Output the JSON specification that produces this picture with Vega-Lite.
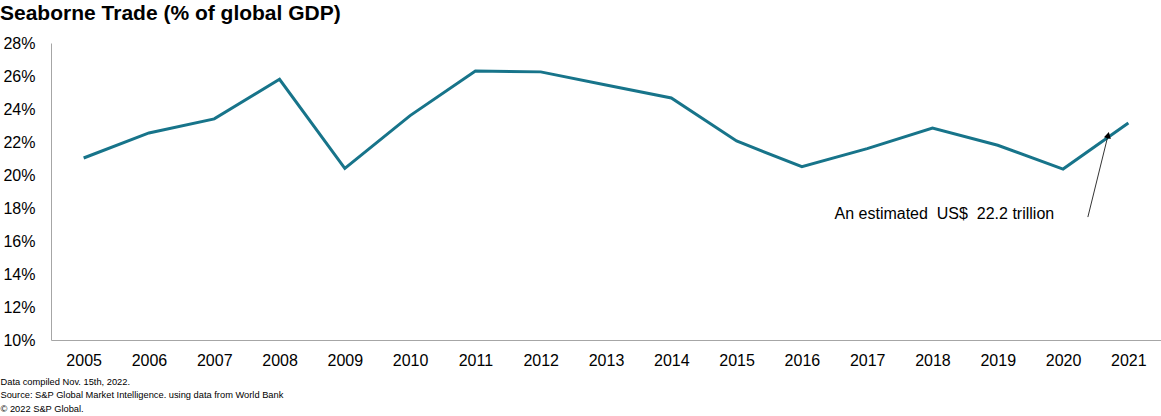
{
  "$schema": "https://vega.github.io/schema/vega-lite/v6.json",
  "width": 1110,
  "height": 297,
  "autosize": "none",
  "padding": {"left": 51, "top": 43, "right": 0, "bottom": 76},
  "background": "white",
  "config": {"view": {"stroke": null}, "font": "Liberation Sans"},
  "title": {
    "text": "Seaborne Trade (% of global GDP)",
    "anchor": "start",
    "frame": "group",
    "dx": -51,
    "offset": 11,
    "fontSize": 21,
    "fontWeight": "bold",
    "font": "Liberation Sans",
    "color": "#000000"
  },
  "datasets": {
    "trade": [
      {"year": 2005, "share": 0.2103},
      {"year": 2006, "share": 0.2255},
      {"year": 2007, "share": 0.2340},
      {"year": 2008, "share": 0.2580},
      {"year": 2009, "share": 0.2040},
      {"year": 2010, "share": 0.2360},
      {"year": 2011, "share": 0.2630},
      {"year": 2012, "share": 0.2625},
      {"year": 2013, "share": 0.2545},
      {"year": 2014, "share": 0.2467},
      {"year": 2015, "share": 0.2206},
      {"year": 2016, "share": 0.2050},
      {"year": 2017, "share": 0.2160},
      {"year": 2018, "share": 0.2285},
      {"year": 2019, "share": 0.2180},
      {"year": 2020, "share": 0.2036},
      {"year": 2021, "share": 0.2315}
    ],
    "arrow": [
      {"x1": 2020.38, "y1": 0.1745, "x2": 2020.69, "y2": 0.2242}
    ],
    "note": [
      {"x": 2016.5, "y": 0.1762, "label": "An estimated \u00a0US$ \u00a022.2 trillion"}
    ]
  },
  "layer": [
    {
      "data": {"name": "trade"},
      "mark": {"type": "line", "color": "#17748a", "strokeWidth": 3},
      "encoding": {
        "x": {
          "field": "year",
          "type": "quantitative",
          "scale": {"domain": [2004.5, 2021.5], "nice": false, "zero": false},
          "axis": {
            "values": [2005, 2006, 2007, 2008, 2009, 2010, 2011, 2012, 2013, 2014, 2015, 2016, 2017, 2018, 2019, 2020, 2021],
            "tickCount": 20,
            "format": "d",
            "grid": false,
            "ticks": false,
            "domainColor": "#a6a6a6",
            "domainWidth": 1,
            "labelFontSize": 16,
            "labelColor": "#000000",
            "labelPadding": 12,
            "labelOverlap": false,
            "labelFont": "Liberation Sans",
            "title": [
              "Data compiled Nov. 15th, 2022.",
              "Source: S&P Global Market Intelligence. using data from World Bank",
              "© 2022  S&P Global."
            ],
            "titleFontSize": 9.3,
            "titleFontWeight": "normal",
            "titleFont": "Liberation Sans",
            "titleColor": "#000000",
            "titleAnchor": "start",
            "titleAlign": "left",
            "titleBaseline": "top",
            "titleLineHeight": 13.5,
            "titleX": -51,
            "titleY": 37
          }
        },
        "y": {
          "field": "share",
          "type": "quantitative",
          "scale": {"domain": [0.10, 0.28], "nice": false, "zero": false},
          "axis": {
            "values": [0.10, 0.12, 0.14, 0.16, 0.18, 0.20, 0.22, 0.24, 0.26, 0.28],
            "tickCount": 12,
            "format": ".0%",
            "grid": false,
            "ticks": false,
            "domainColor": "#a6a6a6",
            "domainWidth": 1,
            "labelFontSize": 16,
            "labelColor": "#000000",
            "labelPadding": 16,
            "labelOverlap": false,
            "labelFlush": false,
            "labelBound": false,
            "labelFont": "Liberation Sans",
            "title": null
          }
        }
      }
    },
    {
      "data": {"name": "arrow"},
      "mark": {"type": "rule", "color": "#000000", "strokeWidth": 0.8},
      "encoding": {
        "x": {"field": "x1", "type": "quantitative"},
        "y": {"field": "y1", "type": "quantitative"},
        "x2": {"field": "x2"},
        "y2": {"field": "y2"}
      }
    },
    {
      "data": {"name": "arrow"},
      "mark": {"type": "point", "shape": "triangle-up", "filled": true, "color": "#000000", "size": 50, "angle": 14, "opacity": 1},
      "encoding": {
        "x": {"field": "x2", "type": "quantitative"},
        "y": {"field": "y2", "type": "quantitative"}
      }
    },
    {
      "data": {"name": "note"},
      "mark": {"type": "text", "align": "left", "baseline": "middle", "fontSize": 16, "font": "Liberation Sans", "color": "#000000"},
      "encoding": {
        "x": {"field": "x", "type": "quantitative"},
        "y": {"field": "y", "type": "quantitative"},
        "text": {"field": "label"}
      }
    }
  ]
}
